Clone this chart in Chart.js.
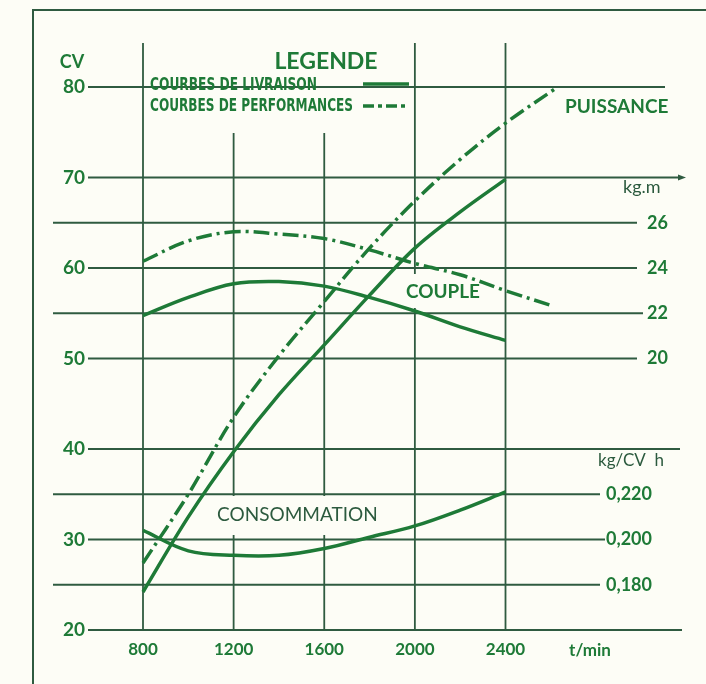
<!DOCTYPE html>
<html>
<head>
<meta charset="utf-8">
<script src="https://cdn.jsdelivr.net/npm/chart.js@4.4.0/dist/chart.umd.min.js"></script>
<style>
  html, body { margin: 0; padding: 0; background: #fdfdf6; }
  #myChart { display: block; }
</style>
</head>
<body>
<canvas id="myChart" width="706" height="684"></canvas>
<script>
// data
const rpm = [800, 1000, 1200, 1400, 1600, 1800, 2000, 2200, 2400];
const puissanceLivraison = [24.2, 32.5, 39.7, 46.0, 51.5, 57.0, 62.2, 66.2, 69.8]; // CV
const puissancePerfRpm = [800, 1000, 1200, 1400, 1600, 1800, 2000, 2200, 2400, 2630];
const puissancePerf = [27.4, 35.0, 43.5, 50.3, 56.3, 62.2, 67.4, 72.0, 76.0, 80.0]; // CV
const coupleLivraison = [21.9, 22.7, 23.3, 23.4, 23.2, 22.7, 22.1, 21.4, 20.8]; // kg.m
const couplePerfRpm = [800, 1000, 1200, 1400, 1600, 1800, 2000, 2200, 2400, 2615];
const couplePerf = [24.3, 25.2, 25.6, 25.5, 25.3, 24.8, 24.2, 23.7, 23.0, 22.3]; // kg.m
const consommation = [0.204, 0.195, 0.193, 0.193, 0.196, 0.201, 0.206, 0.213, 0.221]; // kg/CV h

const rpmTicks = [800, 1200, 1600, 2000, 2400];
const cvTicks = [80, 70, 60, 50, 40, 30, 20];
const kgmTicks = [26, 24, 22, 20];
const consoTicks = [0.220, 0.200, 0.180];

// layout of the scan
const GREEN = '#1e7a37';
const GRID = '#2f5b40';
const DARK = '#2c5a3e';
const BG = '#fdfdf6';
const PAD = { left: 53, right: 24, top: 10, bottom: 54 };
const PX_PER_RPM = 362.5 / 1600;
const PX_PER_CV = 9.05;
const areaW = 706 - PAD.left - PAD.right;
const areaH = 684 - PAD.top - PAD.bottom;
const xMin = 800 - (143 - PAD.left) / PX_PER_RPM;
const xMax = xMin + areaW / PX_PER_RPM;
const cvMax = 20 + areaH / PX_PER_CV;
// right axes are tied to the CV axis: 20 kg.m = 50 CV, 2 kg.m = 5 CV ; 0,200 = 30 CV, 0,020 = 5 CV
const kgm = cv => 20 + (cv - 50) / 2.5;
const conso = cv => 0.2 + (cv - 30) / 250;

const pts = (xs, ys) => xs.map((x, i) => ({ x: x, y: ys[i] }));

function txt(ctx, s, x, y, font, color, align, maxW) {
  ctx.font = font;
  ctx.fillStyle = color;
  ctx.textAlign = align || 'left';
  ctx.textBaseline = 'middle';
  if (maxW) ctx.fillText(s, x, y, maxW); else ctx.fillText(s, x, y);
}

const gridPlugin = {
  id: 'grid',
  beforeDatasetsDraw(chart) {
    const ctx = chart.ctx;
    const x = chart.scales.x, y = chart.scales.y, yk = chart.scales.yKgm, yc = chart.scales.yConso;
    const L = chart.chartArea.left;
    ctx.save();
    // frame of the page
    ctx.strokeStyle = GRID;
    ctx.lineWidth = 2;
    ctx.beginPath();
    ctx.moveTo(33, 684);
    ctx.lineTo(33, 10);
    ctx.lineTo(706, 10);
    ctx.stroke();

    ctx.lineWidth = 1.8;
    const hline = (py, x0, x1) => {
      ctx.beginPath();
      ctx.moveTo(x0, py);
      ctx.lineTo(x1, py);
      ctx.stroke();
    };
    // CV lines
    const cvEnd = { 80: 665, 70: 682, 60: 637, 50: 637, 40: 680, 30: 605, 20: 682 };
    cvTicks.forEach(v => hline(y.getPixelForValue(v), 88, cvEnd[v]));
    // kg.m lines without CV label
    kgmTicks.forEach(v => {
      if (v === 24 || v === 20) return;
      hline(yk.getPixelForValue(v), L, v === 22 ? 643 : 637);
    });
    // consommation lines without CV label
    consoTicks.forEach(v => {
      if (v === 0.2) return;
      hline(yc.getPixelForValue(v), L, 600);
    });
    // arrow at the end of the 70 line
    const ay = y.getPixelForValue(70);
    ctx.fillStyle = GRID;
    ctx.beginPath();
    ctx.moveTo(686, ay);
    ctx.lineTo(678, ay - 3);
    ctx.lineTo(678, ay + 3);
    ctx.closePath();
    ctx.fill();

    // vertical rpm lines
    rpmTicks.forEach(v => {
      const px = x.getPixelForValue(v);
      const top = (v === 1200 || v === 1600) ? 133 : 43;
      ctx.beginPath();
      ctx.moveTo(px, top);
      ctx.lineTo(px, y.getPixelForValue(20));
      ctx.stroke();
    });

    // paper showing through behind the curve names
    ctx.fillStyle = BG;
    ctx.fillRect(213, 496, 176, 39);
    ctx.fillRect(402, 274, 84, 34);
    ctx.restore();
  },
  afterDatasetsDraw(chart) {
    const ctx = chart.ctx;
    const x = chart.scales.x, y = chart.scales.y, yk = chart.scales.yKgm, yc = chart.scales.yConso;
    ctx.save();
    // left CV axis
    txt(ctx, 'CV', 72, 62, 'bold 18px Lato', GREEN, 'center');
    cvTicks.forEach(v => txt(ctx, String(v), 85, y.getPixelForValue(v), 'bold 19px Lato', GREEN, 'right'));
    // bottom rpm axis
    rpmTicks.forEach(v => txt(ctx, String(v), x.getPixelForValue(v), 650, 'bold 17px Lato', GREEN, 'center'));
    txt(ctx, 't/min', 590, 651, 'bold 17px Lato', GREEN, 'center');
    // right kg.m axis
    txt(ctx, 'kg.m', 623, 187, '18px Lato', DARK, 'left', 44);
    kgmTicks.forEach(v => txt(ctx, String(v), 647, yk.getPixelForValue(v), 'bold 18px Lato', GREEN, 'left'));
    // right consommation axis
    txt(ctx, 'kg/CV  h', 598, 461, '17px Lato', DARK, 'left', 77);
    consoTicks.forEach(v => txt(ctx, v.toFixed(3).replace('.', ','), 606, yc.getPixelForValue(v), 'bold 18px Lato', GREEN, 'left', 50));

    // legend
    txt(ctx, 'LEGENDE', 326, 62, 'bold 23px Lato', GREEN, 'center', 118);
    txt(ctx, 'COURBES DE LIVRAISON', 150, 86, 'bold 17px "DejaVu Sans Condensed"', GREEN, 'left', 167);
    txt(ctx, 'COURBES DE PERFORMANCES', 150, 107, 'bold 17px "DejaVu Sans Condensed"', GREEN, 'left', 203);
    ctx.strokeStyle = GREEN;
    ctx.lineWidth = 3.5;
    ctx.beginPath();
    ctx.moveTo(363, 84);
    ctx.lineTo(409, 84);
    ctx.stroke();
    ctx.setLineDash([11, 4, 4, 4]);
    ctx.beginPath();
    ctx.moveTo(363, 106);
    ctx.lineTo(409, 106);
    ctx.stroke();
    ctx.setLineDash([]);

    // curve names
    txt(ctx, 'PUISSANCE', 565, 107, 'bold 19px Lato', GREEN, 'left', 104);
    txt(ctx, 'COUPLE', 406, 292, 'bold 19px Lato', GREEN, 'left', 74);
    txt(ctx, 'CONSOMMATION', 217, 515, '19px Lato', DARK, 'left', 168);
    ctx.restore();
  }
};

const solid = {
  borderColor: GREEN,
  borderWidth: 3.5,
  pointRadius: 0,
  fill: false,
  tension: 0.35
};
const perf = Object.assign({}, solid, { borderDash: [16, 5, 3, 5] });

const ctx = document.getElementById('myChart').getContext('2d');
const myChart = new Chart(ctx, {
  type: 'line',
  data: {
    datasets: [
      Object.assign({ label: 'Puissance livraison', data: pts(rpm, puissanceLivraison), yAxisID: 'y' }, solid),
      Object.assign({ label: 'Puissance performances', data: pts(puissancePerfRpm, puissancePerf), yAxisID: 'y' }, perf),
      Object.assign({ label: 'Couple livraison', data: pts(rpm, coupleLivraison), yAxisID: 'yKgm' }, solid),
      Object.assign({ label: 'Couple performances', data: pts(couplePerfRpm, couplePerf), yAxisID: 'yKgm' }, perf),
      Object.assign({ label: 'Consommation', data: pts(rpm, consommation), yAxisID: 'yConso' }, solid)
    ]
  },
  options: {
    responsive: false,
    animation: false,
    devicePixelRatio: 1,
    layout: { padding: PAD },
    plugins: {
      legend: { display: false },
      tooltip: { enabled: false }
    },
    scales: {
      x: { type: 'linear', min: xMin, max: xMax, display: false },
      y: { type: 'linear', min: 20, max: cvMax, display: false },
      yKgm: { type: 'linear', min: kgm(20), max: kgm(cvMax), display: false },
      yConso: { type: 'linear', min: conso(20), max: conso(cvMax), display: false }
    }
  },
  plugins: [gridPlugin]
});
</script>
</body>
</html>
